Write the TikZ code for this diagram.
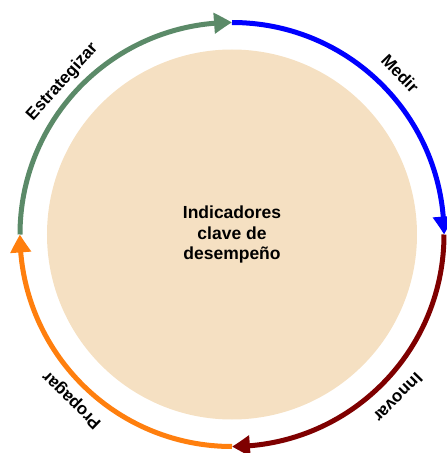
\documentclass[tikz,border=0pt]{standalone}
\usepackage{fontspec}
\setmainfont{Liberation Sans}
\usetikzlibrary{arrows.meta,bending}
\definecolor{cgreen}{HTML}{5B8A68}
\definecolor{cblue}{HTML}{0000FF}
\definecolor{cred}{HTML}{7F0000}
\definecolor{corange}{HTML}{FF7F0E}
\definecolor{cwheat}{HTML}{F5E0C2}
\begin{document}
\begin{tikzpicture}[x=1pt,y=1pt,
  cyc/.style={line width=5pt,-{Triangle[length=18pt,width=20pt,bend]}},
  lab/.style={font=\bfseries\fontsize{17}{20}\selectfont,inner sep=0pt},
  core/.style={circle,fill=cwheat,minimum size=370pt,inner sep=0pt,align=center,
    font=\bfseries\fontsize{17.5}{20.5}\selectfont}]
\useasboundingbox (-232,-218.5) rectangle (215,234.5);
\node[core] (c) at (0,0) {Indicadores\\clave de\\desempeño};
\coordinate (T) at (90:212);
\coordinate (R) at (0:212);
\coordinate (B) at (-90:212);
\coordinate (L) at (180:212);
\draw[cyc,cblue] (T) arc (90:0:212);
\draw[cyc,cred] (R) arc (0:-90:212);
\draw[cyc,corange] (B) arc (-90:-180:212);
\draw[cyc,cgreen] (L) arc (180:90:212);
\node[lab,rotate=-46] (m) at (43.8:233) {Medir};
\node[lab,rotate=-134.5] (i) at (-44.5:233) {Innovar};
\node[lab,rotate=136] (p) at (226:230) {Propagar};
\node[lab,rotate=48] (e) at (138:228) {Estrategizar};
\end{tikzpicture}
\end{document}
